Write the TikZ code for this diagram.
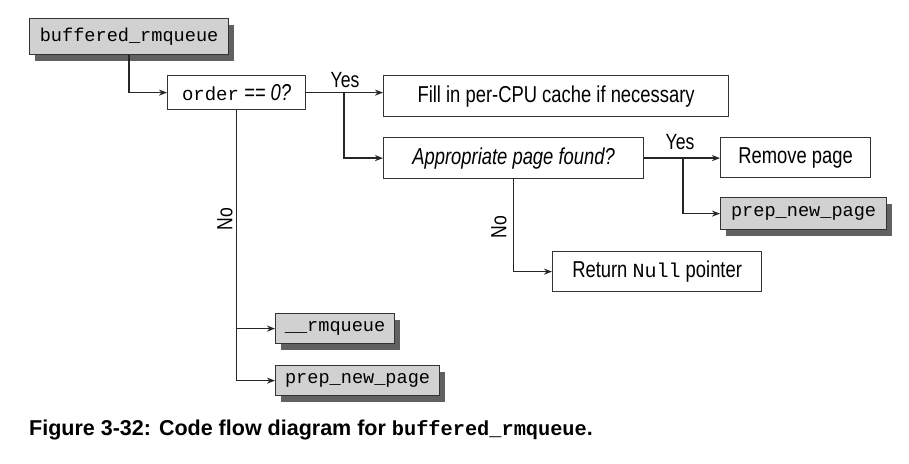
\documentclass[tikz,border=0pt]{standalone}
\usepackage{fontspec}
\setmainfont{Liberation Sans}[FakeStretch=0.8]
\setmonofont{Liberation Mono}
\newfontfamily\capfont{Liberation Sans}
\usetikzlibrary{arrows.meta,shadows,calc}
\tikzset{
  plainbox/.style={draw=black!80, line width=1.2pt, fill=white, inner sep=0pt, anchor=north west,
    font=\fontsize{23}{25}\selectfont},
  codebox/.style={plainbox, fill=black!18, font=\ttfamily\fontsize{18.6}{20}\selectfont,
    drop shadow={shadow xshift=5pt, shadow yshift=-6pt, fill=black!62, opacity=1}},
  conn/.style={draw=black!85, line width=1.7pt, -{Stealth[length=8pt,width=6pt,inset=2.5pt]}},
  lbl/.style={font=\fontsize{22}{24}\selectfont, inner sep=0pt}
}
\begin{document}
\begin{tikzpicture}[x=1pt,y=-1pt]
\useasboundingbox[fill=white] (0,0) rectangle (909,463);
\node[codebox, minimum width=199pt, minimum height=36pt] (top) at (29,18) {buffered\_rmqueue};
\node[plainbox, minimum width=138pt, minimum height=34pt] (order) at (167,75) {{\ttfamily\fontsize{19}{20}\selectfont order}\ {\itshape == 0?}};
\node[plainbox, minimum width=345pt, minimum height=41pt] (fill) at (383,75) {Fill in per-CPU cache if necessary};
\node[plainbox, minimum width=260pt, minimum height=41pt] (appr) at (383,137) {\itshape Appropriate page found?};
\node[plainbox, minimum width=150pt, minimum height=40pt] (remove) at (720,137) {Remove page};
\node[codebox, minimum width=166pt, minimum height=32pt] (prepa) at (720,197) {prep\_new\_page};
\node[plainbox, minimum width=209pt, minimum height=40pt] (ret) at (552,251) {Return {\ttfamily\fontsize{20}{20}\selectfont Null} pointer};
\node[codebox, minimum width=119pt, minimum height=30pt] (rmq) at (275,313) {\_\_rmqueue};
\node[codebox, minimum width=164pt, minimum height=30pt] (prepb) at (275,365) {prep\_new\_page};

\draw[conn] (top.south) |- (order.west);
\draw[conn] (order.east) -- (order.east -| fill.west);
\coordinate (yj) at ($(order.east)+(38,0)$);
\draw[conn] (yj) |- (appr.west);
\node[lbl] (yes1) at (345,80) {Yes};
\draw[conn] (order.south) |- (rmq.west);
\draw[conn] (order.south) |- (prepb.west);
\node[lbl, rotate=90] (no1) at (225,219) {No};
\draw[conn] (appr.south) |- (ret.west);
\node[lbl, rotate=90] (no2) at (499,227) {No};
\draw[conn] (appr.east) -- (appr.east -| remove.west);
\coordinate (yj2) at ($(appr.east)+(39,0)$);
\draw[conn] (yj2) |- (prepa.west);
\node[lbl] (yes2) at (680,142) {Yes};

\node[anchor=west, inner sep=0pt, font=\capfont\bfseries\fontsize{21.5}{24}\selectfont] (cap) at (29,430)
  {Figure 3-32: Code flow diagram for {\ttfamily\bfseries\fontsize{20.3}{24}\selectfont buffered\_rmqueue}.};
\end{tikzpicture}
\end{document}
